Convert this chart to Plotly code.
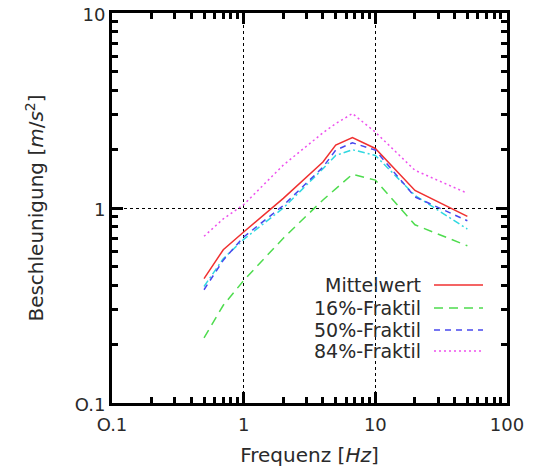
import plotly.graph_objects as go

freq = [0.5, 0.7, 1, 2, 4, 5, 6.7, 10, 20, 50]
mittelwert = [0.434, 0.611, 0.753, 1.12, 1.72, 2.10, 2.30, 2.02, 1.23, 0.906]
fraktil16 = [0.216, 0.317, 0.425, 0.70, 1.10, 1.26, 1.49, 1.39, 0.82, 0.64]
fraktil50 = [0.381, 0.54, 0.71, 1.03, 1.62, 1.98, 2.16, 1.98, 1.14, 0.86]
fraktil84 = [0.716, 0.88, 1.04, 1.66, 2.43, 2.71, 3.05, 2.45, 1.56, 1.19]
extra = [0.396, 0.55, 0.69, 1.00, 1.59, 1.86, 1.99, 1.86, 1.16, 0.78]

x_minor = [m * d for d in (0.1, 1, 10) for m in range(2, 10)]
y_minor = [m * d for d in (0.1, 1) for m in range(2, 10)]

series = [
    ("Mittelwert", mittelwert, "#f03030", "solid"),
    ("16%-Fraktil", fraktil16, "#4edc4e", "9px,6px"),
    ("50%-Fraktil", fraktil50, "#4848ee", "6px,5px"),
    ("84%-Fraktil", fraktil84, "#ee50ee", "2px,3px"),
]

FONT = "DejaVu Sans, sans-serif"
TXT = "#2a2a2a"
fig = go.Figure()
fig.add_trace(go.Scatter(x=freq, y=extra, mode="lines", showlegend=False,
                         line=dict(color="#30d8e0", width=1.5, dash="7px,3px,2px,3px")))
for name, ys, col, dash in series:
    fig.add_trace(go.Scatter(x=freq, y=ys, mode="lines", name=name, showlegend=False,
                             line=dict(color=col, width=1.5, dash=dash)))

# page has an 8px body offset; work in figure coordinates
OFF = 8
W, H = 538 - OFF, 474 - OFF
ml, mr, mt, mb = 112 - OFF, 31, 13 - OFF, 71
ph = H - mt - mb
pw = W - ml - mr

def px(xp):
    return (xp - OFF - ml) / pw

def py(yp):
    return 1 - (yp - OFF - mt) / ph

# opaque legend box (hides grid behind the key, lines stay on top)
fig.add_shape(type="rect", xref="paper", yref="paper", layer="between",
              x0=px(225), x1=px(500), y0=py(398), y1=py(275),
              line=dict(width=0), fillcolor="white")

leg_y = [285, 308, 330, 351]
for (name, ys, col, dash), yy in zip(series, leg_y):
    fig.add_annotation(x=px(423), y=py(yy), xref="paper", yref="paper", text=name,
                       showarrow=False, xanchor="right", yanchor="middle",
                       font=dict(size=19, color=TXT, family=FONT))
    fig.add_shape(type="line", xref="paper", yref="paper",
                  x0=px(434), x1=px(483), y0=py(yy), y1=py(yy),
                  line=dict(color=col, width=1.5, dash=dash))

def axis_common(minor_vals):
    return dict(
        type="log", showline=True, linecolor="black", linewidth=3, mirror="ticks",
        ticks="inside", ticklen=11, tickwidth=3, tickcolor="black", automargin=False,
        ticklabeloverflow="allow",
        showgrid=True, gridcolor="black", gridwidth=1, griddash="3px,3px",
        zeroline=False, tickfont=dict(size=18, color=TXT, family=FONT),
        minor=dict(tickmode="array", tickvals=minor_vals, ticks="inside", ticklen=6,
                   tickwidth=2.5, tickcolor="black", showgrid=False),
    )

fig.update_xaxes(range=[-1, 2], tickvals=[0.1, 1, 10, 100], ticktext=["O.1", "1", "10", "100"],
                 ticklabelstandoff=3,
                 title=dict(text="Frequenz [<i>Hz</i>]", font=dict(size=20, color=TXT, family=FONT), standoff=15),
                 **axis_common(x_minor))
fig.update_yaxes(range=[-1, 1], tickvals=[0.1, 1, 10], ticktext=["O.1", "1", "10"],
                 ticklabelshift=2,
                 title=dict(text="Beschleunigung [<i>m</i>/<i>s</i><sup>2</sup>]", font=dict(size=20, color=TXT, family=FONT), standoff=26),
                 **axis_common(y_minor))
fig.update_layout(width=W, height=H, margin=dict(l=ml, r=mr, t=mt, b=mb, autoexpand=False),
                  plot_bgcolor="white", paper_bgcolor="white", showlegend=False,
                  font=dict(family=FONT))
fig.write_html("out.html")
